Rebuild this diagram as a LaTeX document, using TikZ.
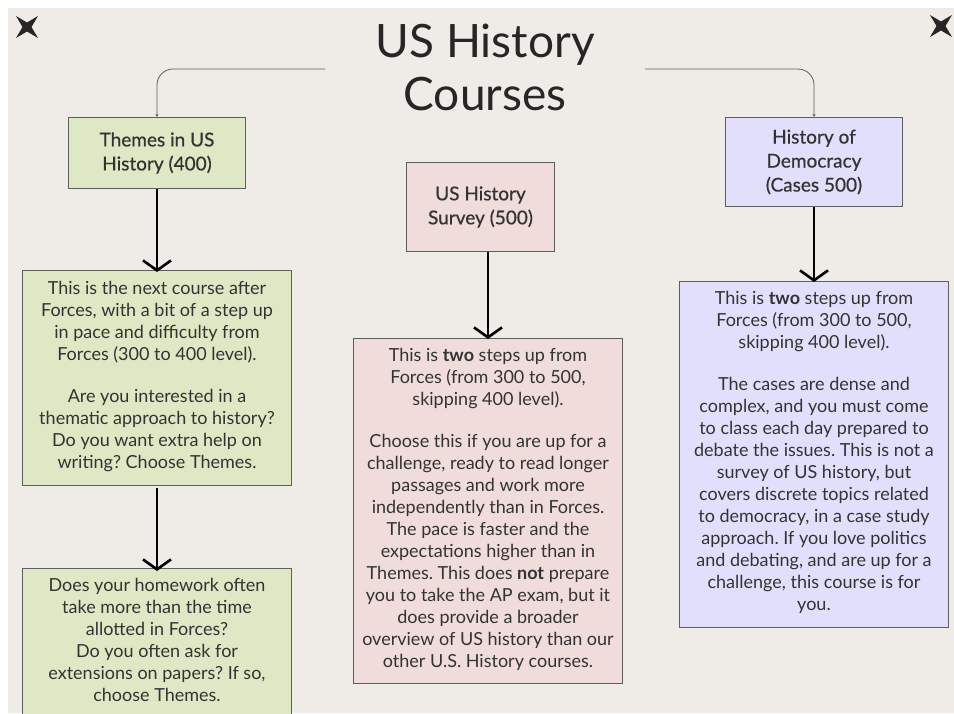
\documentclass[tikz,border=0pt]{standalone}
\usepackage{fontspec}
\setmainfont{Lato}
\newfontfamily\headfont[FakeBold=0.6]{Lato}
\frenchspacing
\usetikzlibrary{arrows.meta}
\definecolor{bgc}{HTML}{EFEBE7}
\definecolor{gfill}{HTML}{DFE8C5}
\definecolor{pfill}{HTML}{F0DCDB}
\definecolor{lfill}{HTML}{E2DFFD}
\definecolor{edge}{HTML}{5E5E5E}
\definecolor{ink}{HTML}{333333}
\tikzset{
  box/.style={draw=edge, line width=1pt, inner sep=0pt, anchor=north west},
  body/.style={anchor=north, align=center, text=ink, inner sep=0pt,
    font=\fontsize{18}{22}\selectfont},
  head/.style={anchor=center, align=center, text=ink, inner sep=0pt,
    font=\headfont\fontsize{19}{24}\selectfont},
  bigarrow/.style={line width=2.6pt, -{Straight Barb[length=10pt,width=28pt,line width=2.6pt]}},
  thinlink/.style={draw=edge, line width=0.8pt, rounded corners=16pt, -{Stealth[length=3pt,width=3pt]}},
  star/.style={fill=black!85}
}
\begin{document}
\begin{tikzpicture}[x=1pt,y=-1pt]
\useasboundingbox (0,0) rectangle (954,713);
\fill[white] (0,0) rectangle (954,713);
\fill[bgc] (8,8) rectangle (954,713);
\begin{scope}
\clip (8,8) rectangle (954,713);
% stars
\foreach \cx/\cy in {27/27, 941/26} {
  \fill[star] (\cx-11,\cy-11) -- (\cx,\cy-4.5) -- (\cx+11,\cy-11) -- (\cx+4.5,\cy) -- (\cx+11,\cy+11) -- (\cx,\cy+4.5) -- (\cx-11,\cy+11) -- (\cx-4.5,\cy) -- cycle;
}
% title
\node[text=black!85, font=\fontsize{46}{53}\selectfont, align=center, inner sep=0pt] (title) at (485,67) {US History\\Courses};
\coordinate (tl) at (325,69);
\coordinate (tr) at (645,69);
% boxes
\node[box, fill=gfill, minimum width=177pt, minimum height=71pt] (themes) at (68,117) {};
\node[head] (themesT) at (themes.center) {Themes in US\\History (400)};
\node[box, fill=gfill, minimum width=269pt, minimum height=215pt] (g2) at (22,270) {};
\node[body] (g2T) at ([yshift=-11pt]g2.north) {This is the next course after\\Forces, with a bit of a step up\\in pace and difficulty from\\Forces (300 to 400 level).\\[20pt]Are you interested in a\\thematic approach to history?\\Do you want extra help on\\writing? Choose Themes.};
\node[box, fill=gfill, minimum width=269pt, minimum height=170pt] (g3) at (22,568) {};
\node[body] (g3T) at ([yshift=-10pt]g3.north) {Does your homework often\\take more than the time\\allotted in Forces?\\Do you often ask for\\extensions on papers? If so,\\choose Themes.};

\node[box, fill=pfill, minimum width=148pt, minimum height=89pt] (survey) at (406,162) {};
\node[head] (surveyT) at (survey.center) {US History\\Survey (500)};
\node[box, fill=pfill, minimum width=269pt, minimum height=345pt] (p2) at (353,338) {};
\node[body] (p2T) at ([yshift=-10pt]p2.north) {This is \textbf{two} steps up from\\Forces (from 300 to 500,\\skipping 400 level).\\[20pt]Choose this if you are up for a\\challenge, ready to read longer\\passages and work more\\independently than in Forces.\\The pace is faster and the\\expectations higher than in\\Themes. This does \textbf{not} prepare\\you to take the AP exam, but it\\does provide a broader\\overview of US history than our\\other U.S. History courses.};

\node[box, fill=lfill, minimum width=177pt, minimum height=89pt] (demo) at (725,117) {};
\node[head] (demoT) at (demo.center) {History of\\Democracy\\(Cases 500)};
\node[box, fill=lfill, minimum width=269pt, minimum height=346pt] (l2) at (679,281) {};
\node[body] (l2T) at ([yshift=-10pt]l2.north) {This is \textbf{two} steps up from\\Forces (from 300 to 500,\\skipping 400 level).\\[20pt]The cases are dense and\\complex, and you must come\\to class each day prepared to\\debate the issues. This is not a\\survey of US history, but\\covers discrete topics related\\to democracy, in a case study\\approach. If you love politics\\and debating, and are up for a\\challenge, this course is for\\you.};

% connectors
\draw[thinlink] (tl) -| (themes.north);
\draw[thinlink] (tr) -| (demo.north);
\draw[bigarrow] (themes.south) -- ([yshift=-2pt]g2.north);
\draw[bigarrow] ([yshift=-2pt]g2.south) -- ([yshift=-3pt]g3.north);
\draw[bigarrow] (survey.south -| p2.north) -- ([yshift=-1pt]p2.north);
\draw[bigarrow] (demo.south) -- ([yshift=-1pt]l2.north);
\end{scope}
\end{tikzpicture}
\end{document}
